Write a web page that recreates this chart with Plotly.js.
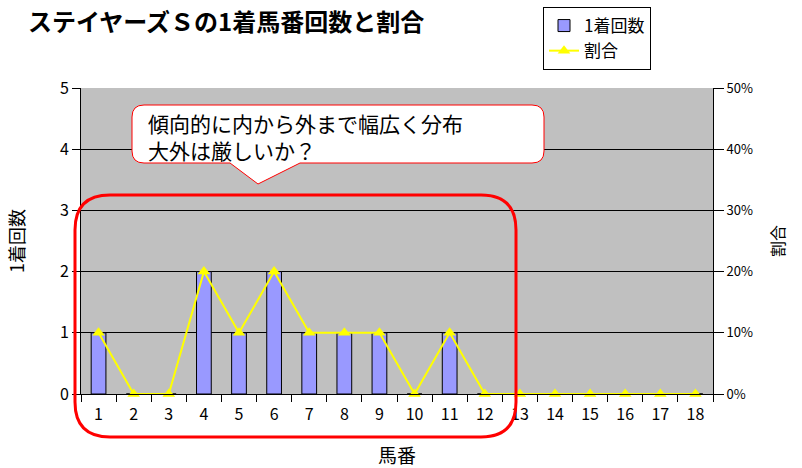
<!DOCTYPE html>
<html>
<head>
<meta charset="utf-8">
<script src="https://cdn.plot.ly/plotly-3.0.1.min.js"></script>
<style>html,body{margin:0;padding:0;background:#fff;}#chart{width:802px;height:468px;}</style>
</head>
<body>
<div id="chart"></div>
<script>
const horseNumbers = ["1","2","3","4","5","6","7","8","9","10","11","12","13","14","15","16","17","18"];
const winCounts = [1,0,0,2,1,2,1,1,1,0,1,0,0,0,0,0,0,0];
const winRatios = [0.10,0,0,0.20,0.10,0.20,0.10,0.10,0.10,0,0.10,0,0,0,0,0,0,0];
const countTicks = [0,1,2,3,4,5];
const ratioTicks = [0,0.1,0.2,0.3,0.4,0.5];

const FONT = '"Noto Sans CJK JP", "Noto Sans", sans-serif';
const W = 802, H = 468;
const L = 81, R = 713, T = 88, B = 394;
const px = x => (x - L) / (R - L);
const py = y => (B - y) / (B - T);

function roundRectPath(x0, y0, x1, y1, r) {
  return `M ${px(x0 + r)} ${py(y0)} L ${px(x1 - r)} ${py(y0)} ` +
    `Q ${px(x1)} ${py(y0)} ${px(x1)} ${py(y0 + r)} L ${px(x1)} ${py(y1 - r)} ` +
    `Q ${px(x1)} ${py(y1)} ${px(x1 - r)} ${py(y1)} L ${px(x0 + r)} ${py(y1)} ` +
    `Q ${px(x0)} ${py(y1)} ${px(x0)} ${py(y1 - r)} L ${px(x0)} ${py(y0 + r)} ` +
    `Q ${px(x0)} ${py(y0)} ${px(x0 + r)} ${py(y0)} Z`;
}
function calloutPath(x0, y0, x1, y1, r, b0, b1, tx, ty) {
  return `M ${px(x0 + r)} ${py(y0)} L ${px(x1 - r)} ${py(y0)} ` +
    `Q ${px(x1)} ${py(y0)} ${px(x1)} ${py(y0 + r)} L ${px(x1)} ${py(y1 - r)} ` +
    `Q ${px(x1)} ${py(y1)} ${px(x1 - r)} ${py(y1)} L ${px(b1)} ${py(y1)} ` +
    `L ${px(tx)} ${py(ty)} L ${px(b0)} ${py(y1)} L ${px(x0 + r)} ${py(y1)} ` +
    `Q ${px(x0)} ${py(y1)} ${px(x0)} ${py(y1 - r)} L ${px(x0)} ${py(y0 + r)} ` +
    `Q ${px(x0)} ${py(y0)} ${px(x0 + r)} ${py(y0)} Z`;
}

const traces = [
  {
    type: 'bar', name: '1着回数', x: horseNumbers, y: winCounts,
    marker: {color: '#9999FF', line: {color: '#000000', width: 1}},
    width: 0.42, yaxis: 'y', xaxis: 'x'
  },
  {
    type: 'scatter', mode: 'lines+markers', name: '割合', x: horseNumbers, y: winRatios,
    line: {color: '#FFFF00', width: 2},
    marker: {symbol: 'triangle-up', size: 11, color: '#FFFF00'},
    yaxis: 'y2', xaxis: 'x', cliponaxis: false
  }
];

const layout = {
  width: W, height: H,
  margin: {l: L, r: W - R, t: T, b: H - B, pad: 0, autoexpand: false},
  paper_bgcolor: '#FFFFFF',
  plot_bgcolor: '#C0C0C0',
  font: {family: FONT, color: '#000000', size: 14},
  title: {
    text: 'ステイヤーズＳの1着馬番回数と割合',
    font: {family: FONT, size: 24, color: '#000000', weight: 'bold'},
    x: 28 / W, xanchor: 'left', xref: 'container',
    y: 1 - 23 / H, yanchor: 'middle', yref: 'container'
  },
  showlegend: true,
  legend: {
    x: px(543), y: py(7), xanchor: 'left', yanchor: 'top',
    bgcolor: '#FFFFFF', bordercolor: '#000000', borderwidth: 1,
    font: {family: FONT, size: 17, color: '#000000'},
    tracegroupgap: 0, itemwidth: 30
  },
  xaxis: {
    type: 'category', categoryarray: horseNumbers, range: [-0.5, 17.5],
    tickson: 'boundaries', ticks: 'outside', ticklen: 7, tickcolor: '#000000', tickwidth: 1,
    ticklabelstandoff: 6,
    showline: true, linecolor: '#000000', linewidth: 1,
    showgrid: false, zeroline: false,
    tickfont: {family: FONT, size: 16, color: '#000000'},
    title: {text: '馬番', font: {family: FONT, size: 19, color: '#000000'}, standoff: 27}
  },
  xaxis2: {
    type: 'category', categoryarray: horseNumbers, range: [-0.5, 17.5],
    overlaying: 'x', anchor: 'y',
    tickson: 'boundaries', ticks: 'inside', ticklen: 7, tickcolor: '#000000', tickwidth: 1,
    showticklabels: false, showline: false, showgrid: false, zeroline: false
  },
  yaxis: {
    range: [0, 5], tickvals: countTicks, ticks: 'outside', ticklen: 8, tickcolor: '#000000',
    showline: true, linecolor: '#000000', linewidth: 1,
    showgrid: true, gridcolor: '#000000', gridwidth: 1, zeroline: false,
    tickfont: {family: FONT, size: 16, color: '#000000'},
    title: {text: '1着回数', font: {family: FONT, size: 18, color: '#000000'}, standoff: 30}
  },
  yaxis2: {
    range: [0, 0.5], tickvals: ratioTicks, tickformat: '.0%', overlaying: 'y', side: 'right',
    ticks: 'outside', ticklen: 10, tickcolor: '#000000',
    showline: true, linecolor: '#000000', linewidth: 1,
    showgrid: false, zeroline: false,
    tickfont: {family: FONT, size: 13, color: '#000000'},
    title: {text: '割合', font: {family: FONT, size: 16, color: '#000000'}, standoff: 20}
  },
  shapes: [
    {
      type: 'path', xref: 'paper', yref: 'paper', layer: 'above',
      path: calloutPath(132, 105, 544, 163, 12, 230, 300, 258, 184),
      fillcolor: '#FFFFFF', line: {color: '#FF0000', width: 1}
    },
    {
      type: 'path', xref: 'paper', yref: 'paper', layer: 'above',
      path: roundRectPath(75, 195, 516, 437, 35),
      fillcolor: 'rgba(0,0,0,0)', line: {color: '#FF0000', width: 3}
    }
  ],
  annotations: [
    {
      xref: 'paper', yref: 'paper', x: px(146), y: py(136), xanchor: 'left', yanchor: 'middle',
      text: '傾向的に内から外まで幅広く分布<br>大外は厳しいか？', showarrow: false, align: 'left',
      font: {family: FONT, size: 21, color: '#000000'}
    }
  ]
};

Plotly.newPlot('chart', traces, layout, {displayModeBar: false, staticPlot: true});
</script>
</body>
</html>
